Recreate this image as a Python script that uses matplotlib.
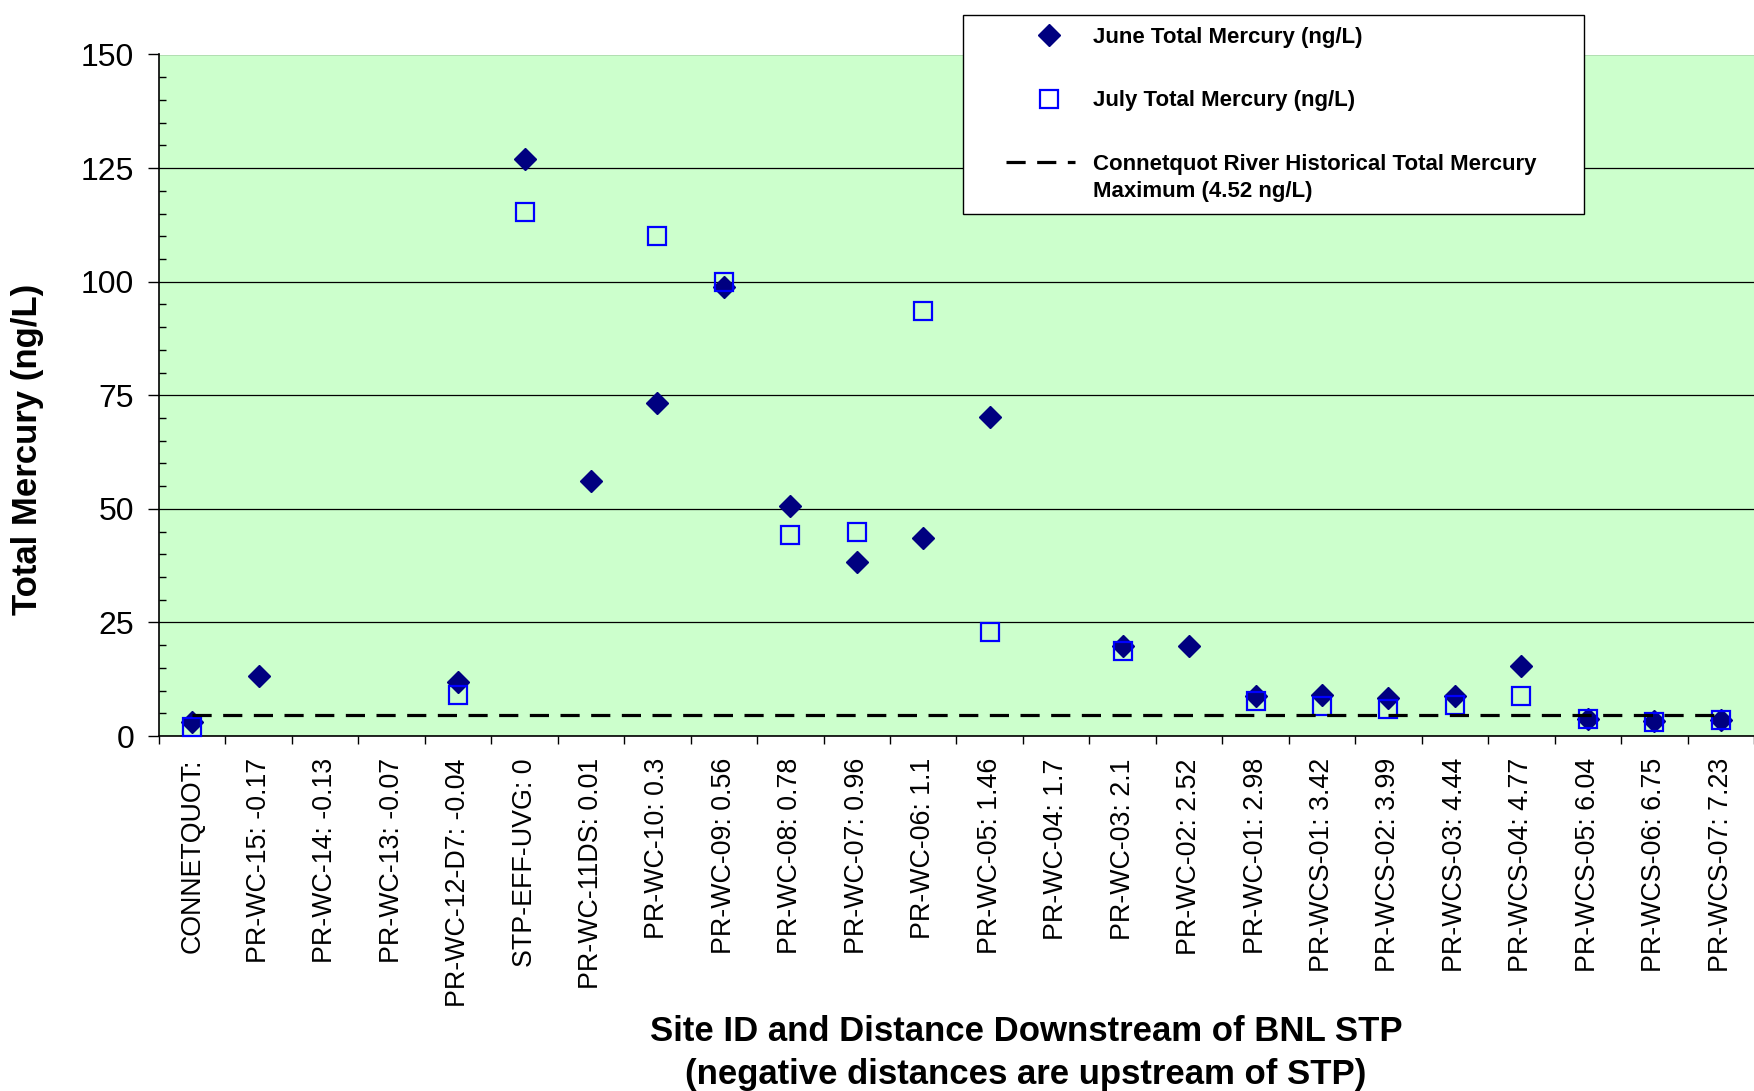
import numpy as np
import matplotlib
matplotlib.use("Agg")
import matplotlib.pyplot as plt
from matplotlib.legend_handler import HandlerLine2D
from matplotlib.ticker import MultipleLocator, FixedLocator

plt.rcParams['font.family'] = ['Liberation Sans', 'DejaVu Sans']

sites = ["CONNETQUOT:", "PR-WC-15: -0.17", "PR-WC-14: -0.13", "PR-WC-13: -0.07",
         "PR-WC-12-D7: -0.04", "STP-EFF-UVG: 0", "PR-WC-11DS: 0.01", "PR-WC-10: 0.3",
         "PR-WC-09: 0.56", "PR-WC-08: 0.78", "PR-WC-07: 0.96", "PR-WC-06: 1.1",
         "PR-WC-05: 1.46", "PR-WC-04: 1.7", "PR-WC-03: 2.1", "PR-WC-02: 2.52",
         "PR-WC-01: 2.98", "PR-WCS-01: 3.42", "PR-WCS-02: 3.99", "PR-WCS-03: 4.44",
         "PR-WCS-04: 4.77", "PR-WCS-05: 6.04", "PR-WCS-06: 6.75", "PR-WCS-07: 7.23"]

nan = np.nan
june = [3.0, 13.1, nan, nan, 11.8, 127.1, 56.2, 73.4, 98.8, 50.7, 38.2, 43.6,
        70.2, nan, 19.8, 19.8, 8.7, 9.0, 8.3, 8.7, 15.3, 3.7, 3.2, 3.5]
july = [2.0, nan, nan, nan, 9.1, 115.3, nan, 110.0, 100.0, 44.3, 44.8, 93.6,
        22.9, nan, 18.6, nan, 7.6, 6.5, 5.9, 6.8, 8.7, 3.7, 3.0, 3.5]
hist_max = 4.52

y_ticks = [0, 25, 50, 75, 100, 125, 150]

W, H = 1754, 1091
fig = plt.figure(figsize=(W / 100, H / 100), dpi=100)
ax = fig.add_axes([159 / W, 1 - 736 / H, (W - 159) / W, (736 - 54.5) / H])
ax.set_facecolor('#CCFFCC')

x = np.arange(len(sites))
ax.plot(x, june, linestyle='none', marker='D', ms=10.8, color='#000080',
        mec='#000080', label='June Total Mercury (ng/L)', zorder=3, clip_on=False)
ax.plot(x, july, linestyle='none', marker='s', ms=12.5, mfc='none', mec='#0000FF',
        mew=1.6, label='July Total Mercury (ng/L)', zorder=4, clip_on=False)
ax.plot(x, [hist_max] * len(x), color='black', lw=2.3, dashes=(6.0, 3.6),
        label='Connetquot River Historical Total Mercury\nMaximum (4.52 ng/L)', zorder=5)

ax.set_xlim(-0.5, len(sites) - 0.5)
ax.set_ylim(0, 150)
ax.set_yticks(y_ticks)
ax.set_yticklabels([str(v) for v in y_ticks])
ax.yaxis.set_minor_locator(MultipleLocator(5))
ax.tick_params(axis='y', which='major', direction='out', length=8, width=1,
               labelsize=23, pad=10, colors='black')
ax.tick_params(axis='y', which='minor', direction='in', length=5, width=1)
ax.set_xticks(x)
ax.set_xticklabels(sites, rotation=90, ha='center', va='top')
ax.xaxis.set_minor_locator(FixedLocator(np.arange(-0.5, len(sites), 1.0)))
ax.tick_params(axis='x', which='major', length=0, labelsize=19.3, pad=16)
ax.tick_params(axis='x', which='minor', direction='out', length=6, width=1)

ax.grid(axis='y', which='major', color='black', lw=0.9, zorder=1)
ax.set_axisbelow(True)
for s in ['top', 'right']:
    ax.spines[s].set_visible(False)
ax.spines['left'].set_linewidth(1.2)
ax.spines['bottom'].set_linewidth(1.2)

ax.set_ylabel('Total Mercury (ng/L)', fontsize=25, fontweight='bold')
ax.yaxis.set_label_coords((28 - 159) / (W - 159), (736 - 449) / (736 - 54.5))
ax.yaxis.label.set_va('center')
ax.set_xlabel('Site ID and Distance Downstream of BNL STP\n(negative distances are upstream of STP)',
              fontsize=25, fontweight='bold', linespacing=1.38)
ax.xaxis.set_label_coords((1026 - 159) / (W - 159), -(1053 - 736) / (736 - 54.5))
ax.xaxis.label.set_va('center')


class ShiftedHandler(HandlerLine2D):
    def __init__(self, yshift=0.0, center_from_right=25.0, half=25.0, **kw):
        super().__init__(**kw)
        self.yshift = yshift
        self.cfr = center_from_right
        self.half = half

    def get_xdata(self, legend, xdescent, ydescent, width, height, fontsize):
        c = width - self.cfr
        line_x = np.array([c - self.half, c + self.half]) - xdescent
        marker_x = np.array([c]) - xdescent
        return line_x, marker_x

    def create_artists(self, legend, orig_handle, xdescent, ydescent, width,
                       height, fontsize, trans):
        artists = super().create_artists(legend, orig_handle, xdescent, ydescent,
                                         width, height, fontsize, trans)
        for a in artists:
            a.set_ydata(np.asarray(a.get_ydata()) + self.yshift)
        return artists


handles, labels = ax.get_legend_handles_labels()
hmap = {handles[0]: ShiftedHandler(center_from_right=18.6, half=5.0),
        handles[1]: ShiftedHandler(center_from_right=18.6, half=5.0),
        handles[2]: ShiftedHandler(yshift=11.5)}
leg = fig.legend(handles, labels, loc='upper left',
                 bbox_to_anchor=(963 / W, 1 - 15 / H - 0.01, (1584 - 963) / W, 0.01),
                 mode='expand', prop={'weight': 'bold', 'size': 16},
                 frameon=True, fancybox=False, shadow=False, borderpad=0.55,
                 labelspacing=1.9, handlelength=4.5, handletextpad=0.8,
                 handler_map=hmap, borderaxespad=0)
for t in leg.get_texts():
    t.set_linespacing(1.4)
leg.get_frame().set_edgecolor('black')
leg.get_frame().set_linewidth(1.0)
leg.get_frame().set_facecolor('white')
leg.get_frame().set_alpha(1)

fig.savefig('out.png', dpi=100, facecolor='white')
